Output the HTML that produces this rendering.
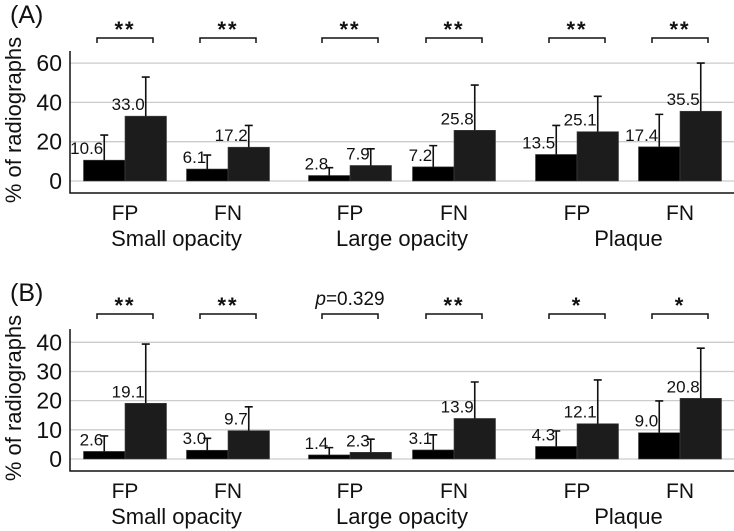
<!DOCTYPE html>
<html><head><meta charset="utf-8"><style>
body{margin:0;background:#fff;}
svg{display:block;font-family:"Liberation Sans",Arial,sans-serif;}
</style></head><body>
<svg id="chart" width="734" height="531"></svg>
<script>
const groups = ["Small opacity","Large opacity","Plaque"];
const subCats = ["FP","FN","FP","FN","FP","FN"];
const aLow = [10.6,6.1,2.8,7.2,13.5,17.4];
const aHigh = [33.0,17.2,7.9,25.8,25.1,35.5];
const aLowErr = [23.4,13.2,6.8,18.0,28.3,33.9];
const aHighErr = [52.9,28.3,16.4,48.8,43.1,60.0];
const aSig = ["**","**","**","**","**","**"];
const aTicks = [0,20,40,60];
const bLow = [2.6,3.0,1.4,3.1,4.3,9.0];
const bHigh = [19.1,9.7,2.3,13.9,12.1,20.8];
const bLowErr = [7.9,7.1,3.9,8.3,9.6,19.9];
const bHighErr = [39.4,17.9,6.8,26.4,27.1,38.0];
const bSig = ["**","**","p=0.329","**","*","*"];
const bTicks = [0,10,20,30,40];

const NS="http://www.w3.org/2000/svg";
const svg=document.getElementById('chart');
function mk(tag,attrs,parent,text){const e=document.createElementNS(NS,tag);for(const k in attrs)e.setAttribute(k,attrs[k]);if(text!==undefined)e.textContent=text;(parent||svg).appendChild(e);return e;}
const centers=[125,228,350,454,577,680];
const bw=41.5;

function panel(p){
  const g=mk('g',{});
  
  
  const y=v=>p.y0-v*p.scale;
  const t=mk('text',{x:10,y:p.top-28,'font-size':25,fill:'#111'},g,'('+p.id.toUpperCase()+')');
  
  
  p.ticks.forEach(v=>{
    if(v>0){const l=mk('line',{x1:70,x2:734,y1:y(v),y2:y(v),stroke:'#ccc','stroke-width':1.3},g);
    
    }
    const tl=mk('text',{x:62,y:y(v)+8,'font-size':23,'text-anchor':'end',fill:'#111'},g,String(v));
    
    
  });
  const z=mk('line',{x1:70,x2:734,y1:p.y0,y2:p.y0,stroke:'#ccc','stroke-width':1.3},g);
  
  
  const ax=mk('path',{d:`M70 ${p.top} V${p.axisY} H734`,stroke:'#111','stroke-width':1.5,fill:'none'},g);
  
  
  const yt=mk('text',{x:0,y:0,'font-size':22,'text-anchor':'middle',fill:'#111',transform:`translate(21,${(p.top+p.axisY)/2-2}) rotate(-90)`},g,'% of radiographs');
  
  
  centers.forEach((c,i)=>{
    [[p.low,p.lowErr,c-bw,'#000'],[p.high,p.highErr,c,'#1c1c1c']].forEach((s,k)=>{
      const v=s[0][i],e=s[1][i],x=s[2];
      const r=mk('rect',{x:x,y:y(v),width:bw,height:p.y0-y(v),fill:s[3],stroke:'#444','stroke-width':0.6},g);
      
      
      const ex=x+bw/2;
      const eb=mk('path',{d:`M${ex} ${y(v)} V${y(e)} M${ex-4} ${y(e)} H${ex+4}`,stroke:'#111','stroke-width':1.6,fill:'none'},g);
      
      
      const vl=mk('text',{x:ex-1,y:y(v)-6,'font-size':17,'text-anchor':'end',fill:'#111'},g,v.toFixed(1));
      
      
    });
    const by=p.brY;
    const br=mk('path',{d:`M${c-28} ${by+5} V${by} H${c+28} V${by+5}`,stroke:'#111','stroke-width':1.5,fill:'none'},g);
    
    
    const sg=p.sig[i];
    let st;
    if(sg.startsWith('p')){
      st=mk('text',{x:c,y:by-9,'font-size':19,'text-anchor':'middle',fill:'#111'},g);
      mk('tspan',{'font-style':'italic'},st,'p');
      mk('tspan',{},st,sg.slice(1));
    } else st=mk('text',{x:c,y:by-1,'font-size':22,'font-weight':'bold','letter-spacing':'2','text-anchor':'middle',fill:'#111'},g,sg);
    
    
    const xl=mk('text',{x:c,y:p.axisY+27,'font-size':21,'text-anchor':'middle',fill:'#111'},g,subCats[i]);
    
    
  });
  groups.forEach((gn,j)=>{
    const gl=mk('text',{x:(centers[2*j]+centers[2*j+1])/2,y:p.axisY+53,'font-size':22,'text-anchor':'middle',fill:'#111'},g,gn);
    
    
  });
}
panel({id:'a',y0:181,scale:1.965,top:51,axisY:193,ticks:aTicks,low:aLow,high:aHigh,lowErr:aLowErr,highErr:aHighErr,sig:aSig,brY:38});
panel({id:'b',y0:459,scale:2.917,top:329,axisY:471,ticks:bTicks,low:bLow,high:bHigh,lowErr:bLowErr,highErr:bHighErr,sig:bSig,brY:314});
</script>
</body></html>
